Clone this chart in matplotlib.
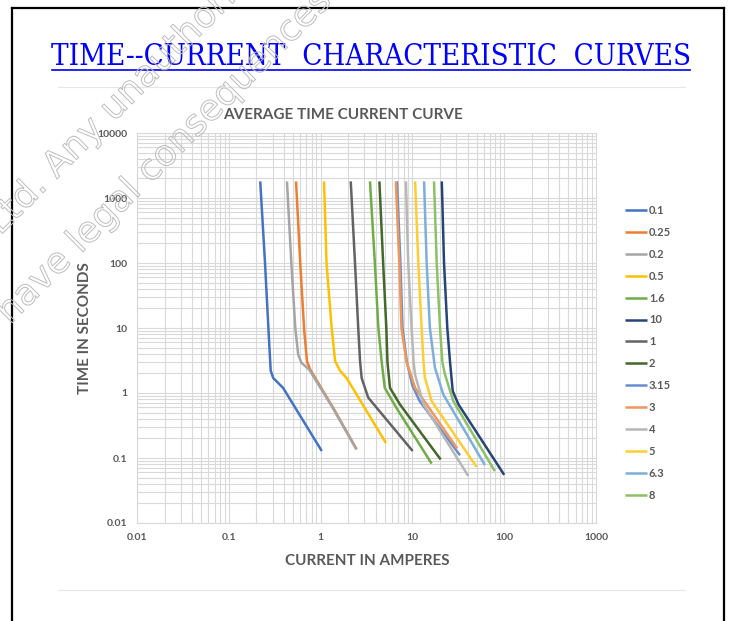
import numpy as np
import matplotlib
matplotlib.use('Agg')
import matplotlib.pyplot as plt
from matplotlib import patheffects
from matplotlib.ticker import LogLocator, NullFormatter

W, H = 732, 621

def fx(px):
    return px / W

def fy(py):
    return 1 - py / H

# fuse ratings (legend order) and colours
ratings = ['0.1', '0.25', '0.2', '0.5', '1.6', '10', '1', '2', '3.15', '3', '4', '5', '6.3', '8']
colors = ['#4472C4', '#ED7D31', '#A5A5A5', '#FFC000', '#70AD47', '#264478', '#636363',
          '#43682B', '#698ED0', '#F1975A', '#B7B7B7', '#FFCD33', '#7CAFDD', '#8CC168']

# current (A) / time (s)
amps_01 = [0.22, 0.248, 0.27, 0.286, 0.305, 0.39, 1.03]
secs_01 = [1800, 100, 10, 2.2, 1.7, 1.2, 0.128]
amps_025 = [0.54, 0.6, 0.66, 0.71, 0.77, 1.37, 2.47]
secs_025 = [1800, 100, 10, 3.1, 2.3, 0.59, 0.136]
amps_02 = [0.43, 0.48, 0.53, 0.57, 0.62, 0.75, 1.35, 2.45]
secs_02 = [1800, 100, 10, 3.9, 2.9, 2.3, 0.6, 0.136]
amps_05 = [1.09, 1.16, 1.32, 1.44, 1.63, 1.92, 5.15]
secs_05 = [1800, 100, 10, 3.1, 2.2, 1.7, 0.17]
amps_16 = [3.45, 3.9, 4.26, 4.63, 5.0, 6.7, 16.2]
secs_16 = [1800, 100, 10, 3.0, 1.2, 0.59, 0.082]
amps_10 = [20.9, 22.1, 24.0, 25.7, 27.5, 31.7, 100]
secs_10 = [1800, 100, 10, 3.0, 1.07, 0.67, 0.055]
amps_1 = [2.13, 2.37, 2.57, 2.69, 2.8, 3.3, 10.07]
secs_1 = [1800, 100, 10, 3.1, 1.7, 0.85, 0.128]
amps_2 = [4.37, 4.8, 5.2, 5.35, 5.7, 7.3, 20.3]
secs_2 = [1800, 100, 10, 3.0, 1.2, 0.67, 0.095]
amps_315 = [6.8, 7.4, 7.8, 8.7, 10.0, 12.0, 33]
secs_315 = [1800, 100, 10, 3.0, 1.3, 0.75, 0.11]
amps_3 = [6.6, 7.2, 7.6, 8.6, 10.7, 30.8]
secs_3 = [1800, 100, 10, 3.1, 1.2, 0.14]
amps_4 = [8.5, 9.0, 9.8, 10.3, 10.7, 13.2, 40.6]
secs_4 = [1800, 100, 10, 3.0, 1.9, 0.67, 0.053]
amps_5 = [10.7, 11.6, 12.6, 13.2, 13.7, 16.2, 50]
secs_5 = [1800, 100, 10, 3.0, 1.7, 0.75, 0.073]
amps_63 = [13.4, 14.3, 15.5, 17.6, 21.7, 61.6]
secs_63 = [1800, 100, 10, 2.45, 0.95, 0.078]
amps_8 = [17.2, 18.4, 20.0, 21.2, 22.6, 27.9, 79]
secs_8 = [1800, 100, 10, 3.0, 1.94, 0.75, 0.063]

curves = [(amps_01, secs_01), (amps_025, secs_025), (amps_02, secs_02), (amps_05, secs_05),
          (amps_16, secs_16), (amps_10, secs_10), (amps_1, secs_1), (amps_2, secs_2),
          (amps_315, secs_315), (amps_3, secs_3), (amps_4, secs_4), (amps_5, secs_5),
          (amps_63, secs_63), (amps_8, secs_8)]

xticks = [0.01, 0.1, 1, 10, 100, 1000]
yticks = [0.01, 0.1, 1, 10, 100, 1000, 10000]

fig = plt.figure(figsize=(W / 100, H / 100), dpi=100)

# page frame
for xs, ys in [([12, 12], [8, 621]), ([12, 724], [8, 8]), ([724, 724], [8, 621])]:
    fig.add_artist(plt.Line2D([fx(v) for v in xs], [fy(v) for v in ys], color='black', lw=1.6))
for yy in [87, 590]:
    fig.add_artist(plt.Line2D([fx(58), fx(685)], [fy(yy), fy(yy)], color='#e6e6e6', lw=0.8))

# page title, fitted to its width
title = fig.text(fx(371), fy(65), 'TIME--CURRENT  CHARACTERISTIC  CURVES', ha='center', va='baseline',
                 fontsize=20, family='DejaVu Serif', fontstretch='condensed', color='#0000ff')
fig.canvas.draw()
w = title.get_window_extent().width
title.set_fontsize(20 * 638 / w)
fig.add_artist(plt.Line2D([fx(52), fx(690)], [fy(70), fy(70)], color='#0000ff', lw=1.2))

ax = fig.add_axes([fx(137), fy(523), fx(596) - fx(137), fy(133) - fy(523)])
ax.set_xscale('log')
ax.set_yscale('log')
for (a, s), lab, c in zip(curves, ratings, colors):
    ax.plot(a, s, color=c, lw=1.8, label=lab, solid_capstyle='butt')
ax.set_xlim(0.01, 1000)
ax.set_ylim(0.01, 10000)
ax.xaxis.set_minor_locator(LogLocator(base=10, subs=np.arange(2, 10), numticks=100))
ax.yaxis.set_minor_locator(LogLocator(base=10, subs=np.arange(2, 10), numticks=100))
ax.xaxis.set_minor_formatter(NullFormatter())
ax.yaxis.set_minor_formatter(NullFormatter())
ax.set_xticks(xticks)
ax.set_xticklabels([f'{v:g}' for v in xticks])
ax.set_yticks(yticks)
ax.set_yticklabels([f'{v:g}' for v in yticks])
ax.grid(which='both', color='#d9d9d9', lw=0.8)
ax.set_axisbelow(True)
ax.tick_params(which='both', length=0, labelsize=7.5, labelcolor='#595959', pad=7)
for lbl in ax.get_xticklabels() + ax.get_yticklabels():
    lbl.set_family('Lato')
    lbl.set_weight('bold')
for sp in ax.spines.values():
    sp.set_color('#d9d9d9')
    sp.set_linewidth(0.8)

leg = ax.legend(loc='upper left', bbox_to_anchor=(fx(625), fy(205)), bbox_transform=fig.transFigure,
                frameon=False, handlelength=2.0, handletextpad=0.15, labelspacing=0.98,
                borderpad=0, borderaxespad=0, prop={'family': 'Lato', 'weight': 'bold', 'size': 8})
for t in leg.get_texts():
    t.set_color('#595959')

fig.text(fx(343), fy(115), 'AVERAGE TIME CURRENT CURVE', ha='center', va='center',
         fontsize=11, family='Lato', weight='bold', color='#595959')
fig.text(fx(367), fy(561), 'CURRENT IN AMPERES', ha='center', va='center',
         fontsize=11, family='Lato', weight='bold', color='#595959')
fig.text(fx(85), fy(328), 'TIME IN SECONDS', ha='center', va='center', rotation=90,
         fontsize=11, family='Lato', weight='bold', color='#595959')

# hollow watermark
wm = [patheffects.Stroke(linewidth=0.7, foreground='#bdbdbd')]
fig.text(fx(0), fy(236), 'Ltd. Any unauthorized', rotation=45, rotation_mode='anchor',
         ha='left', va='baseline', fontsize=26, color=(1, 1, 1, 0), path_effects=wm, zorder=10)
fig.text(fx(10), fy(325), 'have legal consequences', rotation=45, rotation_mode='anchor',
         ha='left', va='baseline', fontsize=26, color=(1, 1, 1, 0), path_effects=wm, zorder=10)

fig.savefig('out.png', dpi=100)
